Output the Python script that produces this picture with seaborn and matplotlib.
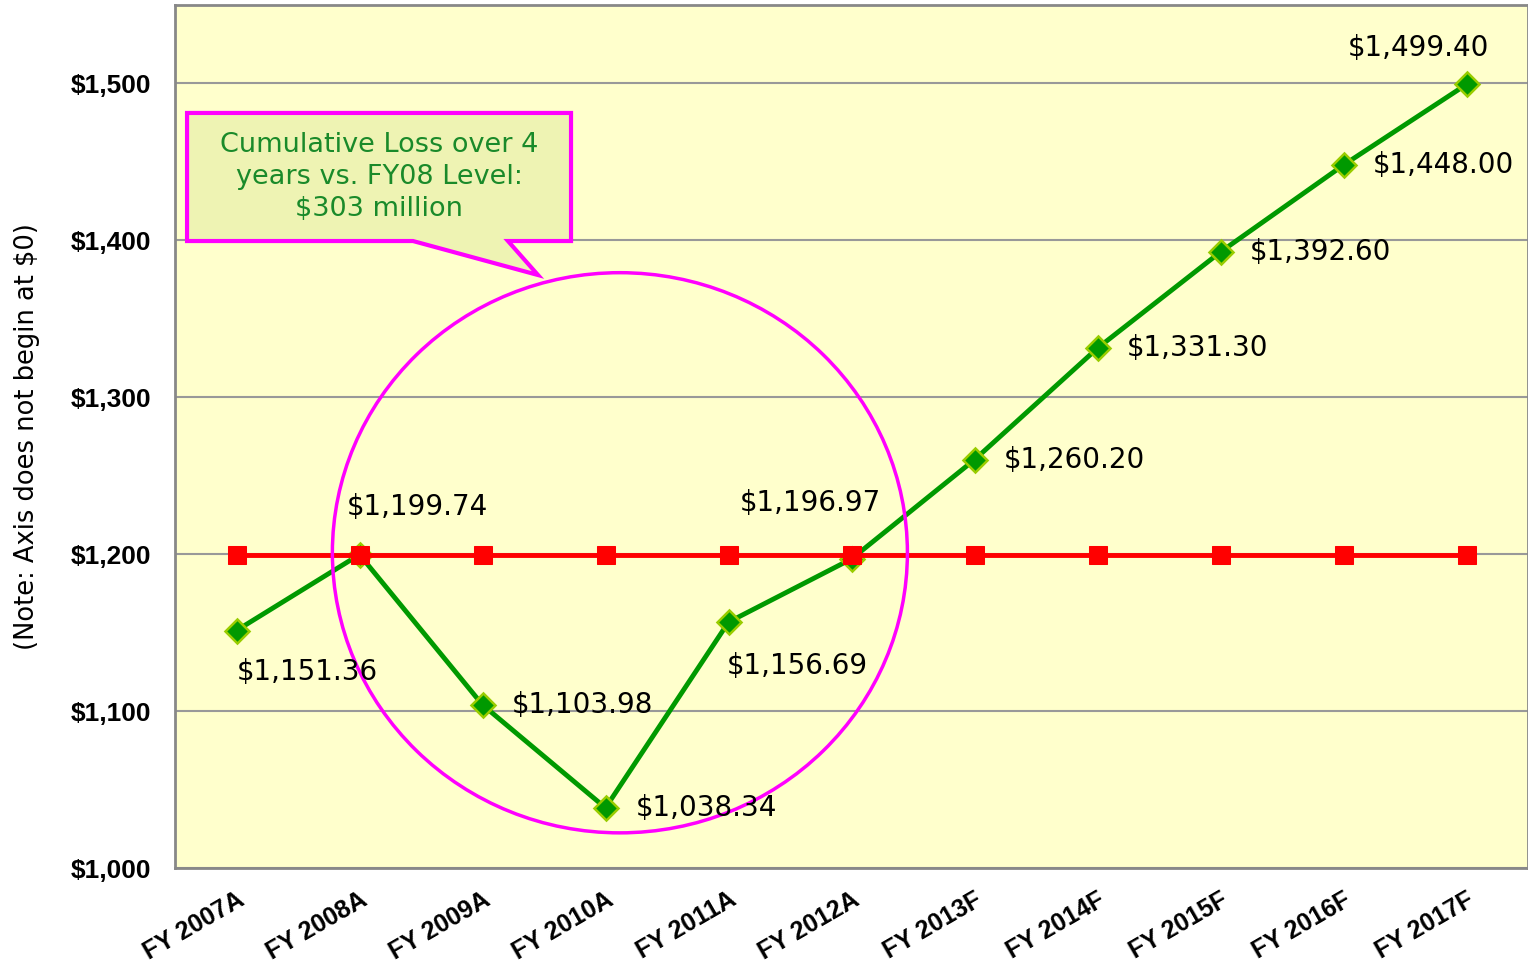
import numpy as np
import pandas as pd
import seaborn as sns
import matplotlib.pyplot as plt
from matplotlib.patches import Ellipse, Polygon

# Data
years = ['FY 2007A', 'FY 2008A', 'FY 2009A', 'FY 2010A', 'FY 2011A', 'FY 2012A',
         'FY 2013F', 'FY 2014F', 'FY 2015F', 'FY 2016F', 'FY 2017F']
revenue = [1151.36, 1199.74, 1103.98, 1038.34, 1156.69, 1196.97,
           1260.20, 1331.30, 1392.60, 1448.00, 1499.40]
fy08_level = [1199.74] * len(years)
y_ticks = [1000, 1100, 1200, 1300, 1400, 1500]

# label offsets in pixels (dx, dy, ha)
label_pos = [(0, -41, 'left'), (-13, 48, 'left'), (29, 0, 'left'), (30, 0, 'left'),
             (-2, -44, 'left'), (-41, 56, 'center'), (29, 0, 'left'), (29, 0, 'left'),
             (29, 0, 'left'), (29, 0, 'left'), (-48, 36, 'center')]

df = pd.DataFrame({'idx': np.arange(len(years)), 'revenue': revenue, 'fy08': fy08_level})

sns.set_style('white')
plt.rcParams['font.family'] = ['DejaVu Sans']
plt.rcParams['text.color'] = 'black'
plt.rcParams['axes.labelcolor'] = 'black'
plt.rcParams['xtick.color'] = 'black'
plt.rcParams['ytick.color'] = 'black'

fig = plt.figure(figsize=(15.28, 9.66), dpi=100)
ax = fig.add_axes([175 / 1528, 98 / 966, 1353 / 1528, 863 / 966])
ax.set_facecolor('#FFFFCC')

sns.lineplot(data=df, x='idx', y='revenue', ax=ax, color='#009900', linewidth=3.5,
             marker='D', markersize=12, markerfacecolor='#009900',
             markeredgecolor='#99CC00', markeredgewidth=1.8, zorder=3)
sns.lineplot(data=df, x='idx', y='fy08', ax=ax, color='#FF0000', linewidth=3.5,
             marker='s', markersize=13, markerfacecolor='#FF0000',
             markeredgecolor='#FF0000', zorder=4)

for i, v in enumerate(revenue):
    dx, dy, ha = label_pos[i]
    ax.annotate(f'${v:,.2f}', xy=(i, v), xytext=(dx, dy), textcoords='offset pixels',
                ha=ha, va='center', fontsize=20, color='black', zorder=6)

ax.set_xlim(-0.5, len(years) - 0.5)
ax.set_ylim(1000, 1550)
ax.set_yticks(y_ticks)
ax.set_yticklabels([f'${t:,}' for t in y_ticks], fontsize=19, fontweight='bold',
                   family='Liberation Sans', color='black')
ax.set_xticks(np.arange(len(years)))
ax.set_xticklabels(years, rotation=30, ha='right', rotation_mode='anchor',
                   fontsize=18, fontweight='bold', family='Liberation Sans', color='black')
ax.tick_params(axis='y', length=0, pad=17)
ax.tick_params(axis='x', length=0, pad=14)
ax.set_xlabel('')
ax.set_ylabel('(Note: Axis does not begin at $0)', fontsize=18.5, labelpad=22,
              color='black')
ax.yaxis.grid(True, color='#999999', linewidth=1.5)
ax.set_axisbelow(True)
for s in ax.spines.values():
    s.set_color('#888888')
    s.set_linewidth(2)

# circle around the loss years
ax.add_patch(Ellipse((3.117, 1200.9), 4.675, 357, fill=False, edgecolor='#FF00FF',
                     linewidth=2.5, zorder=5))

# callout box
callout = [(0.0089, 0.8749), (0.2927, 0.8749), (0.2927, 0.7265), (0.2461, 0.7265),
           (0.2683, 0.6871), (0.1759, 0.7265), (0.0089, 0.7265)]
ax.add_patch(Polygon(callout, closed=True, transform=ax.transAxes, facecolor='#EEF3B3',
                     edgecolor='#FF00FF', linewidth=3, zorder=7))
ax.text(0.1508, 0.8007, 'Cumulative Loss over 4\nyears vs. FY08 Level:\n$303 million',
        transform=ax.transAxes, ha='center', va='center', fontsize=19.5,
        color='#1A8A2A', linespacing=1.3, zorder=8)

plt.savefig('out.png', dpi=100)
